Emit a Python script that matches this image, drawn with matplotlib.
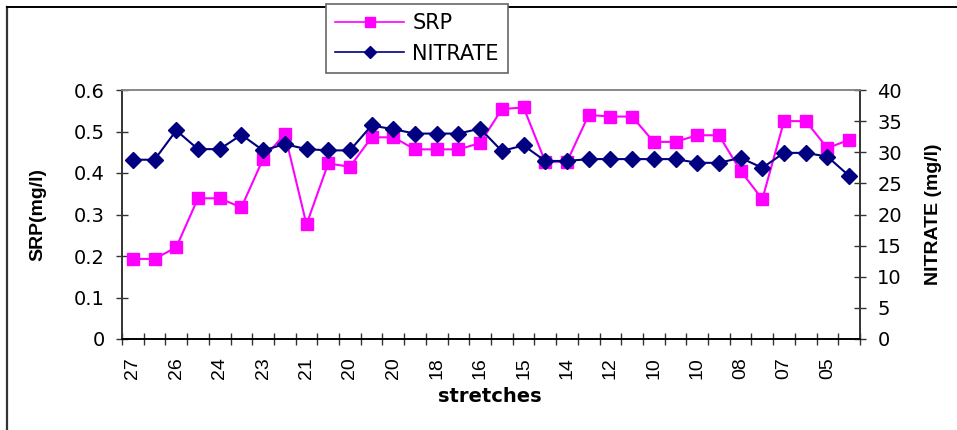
import numpy as np
import matplotlib.pyplot as plt
from matplotlib.lines import Line2D

plt.rcParams['font.family'] = ['Liberation Sans', 'DejaVu Sans']

# stretch labels (shown on every second category)
stretch_labels = ['27', '26', '24', '23', '21', '20', '20', '18', '16',
                  '15', '14', '12', '10', '10', '08', '07', '05']

srp = [0.193, 0.193, 0.221, 0.339, 0.339, 0.317, 0.434, 0.494, 0.276,
       0.423, 0.415, 0.486, 0.486, 0.457, 0.457, 0.457, 0.472, 0.554,
       0.558, 0.427, 0.427, 0.540, 0.536, 0.536, 0.475, 0.475, 0.491,
       0.491, 0.405, 0.337, 0.525, 0.525, 0.460, 0.480]

nitrate = [28.8, 28.8, 33.5, 30.5, 30.5, 32.8, 30.3, 31.3, 30.5, 30.3,
           30.3, 34.3, 33.7, 33.0, 33.0, 33.0, 33.8, 30.2, 31.1, 28.6,
           28.6, 28.9, 28.9, 28.9, 28.9, 28.9, 28.3, 28.3, 29.1, 27.5,
           29.9, 29.9, 29.3, 26.2]

x = np.arange(len(srp))

wide = 'DejaVu Sans'
W, H = 957, 430
x0, x1, y0, y1 = 122, 860, 90, 339   # plot area in pixels

fig = plt.figure(figsize=(W / 100, H / 100), dpi=100)
ax = fig.add_axes([x0 / W, 1 - y1 / H, (x1 - x0) / W, (y1 - y0) / H])
ax2 = ax.twinx()

ax.plot(x, srp, color='#FF00FF', lw=1.5, marker='s', ms=9,
        mec='#FF00FF', mfc='#FF00FF', zorder=3)
ax2.plot(x, nitrate, color='#000080', lw=1.5, marker='D', ms=8.5,
         mec='#000080', mfc='#000080', zorder=3)

ax.set_xlim(-0.5, len(srp) - 0.5)
ax.set_ylim(0, 0.6)
ax2.set_ylim(0, 40)
ax.set_yticks(np.arange(0, 0.61, 0.1))
ax.set_yticklabels(['0', '0.1', '0.2', '0.3', '0.4', '0.5', '0.6'], family=wide, fontsize=14)
ax2.set_yticks(np.arange(0, 41, 5))
ax2.set_yticklabels([str(v) for v in range(0, 41, 5)], family=wide, fontsize=14)

# category boundaries get the tick marks, every other category gets a label
ax.set_xticks(np.arange(-0.5, len(srp), 1.0))
ax.set_xticklabels([])
ax.set_xticks(x[::2], minor=True)
ax.set_xticklabels(stretch_labels, minor=True, rotation=90, fontsize=14)
ax.tick_params(axis='x', which='minor', length=0, pad=13)
ax.tick_params(axis='x', which='major', direction='inout', length=9, width=1, color='#333333')
ax.tick_params(axis='y', direction='inout', length=9, width=1, pad=8, color='#333333')
ax2.tick_params(axis='y', direction='inout', length=9, width=1, pad=8, color='#333333')

for a in (ax, ax2):
    a.spines['top'].set_color('#888888')
    a.spines['left'].set_color('#333333')
    a.spines['right'].set_color('#333333')
    a.spines['bottom'].set_color('black')
    for s in a.spines.values():
        s.set_linewidth(1.2)

ax.set_ylabel('SRP(mg/l)', fontsize=14, fontweight='bold', va='center')
ax2.set_ylabel('NITRATE (mg/l)', fontsize=14, fontweight='bold', rotation=90, va='center')
ax.yaxis.set_label_coords((38 - x0) / (x1 - x0), 0.5)
ax2.yaxis.set_label_coords((933 - x0) / (x1 - x0), 0.5)
ax.set_xlabel('stretches', family=wide, fontsize=14, fontweight='bold')
ax.xaxis.set_label_coords((490 - x0) / (x1 - x0), -(387 - y1) / (y1 - y0))

handles = [Line2D([], [], color='#FF00FF', lw=1.2, marker='s', ms=7, mfc='#FF00FF', mec='#FF00FF'),
           Line2D([], [], color='#000080', lw=1.2, marker='D', ms=6, mfc='#000080', mec='#000080')]
leg = fig.legend(handles, ['SRP', 'NITRATE'], loc='upper left',
                 bbox_to_anchor=(326 / W, 1 - 4 / H), prop={'family': wide, 'size': 15},
                 handlelength=3.3, borderpad=0.45, labelspacing=0.5, handletextpad=0.4,
                 borderaxespad=0, fancybox=False, framealpha=1, edgecolor='#666666')
leg.get_frame().set_linewidth(1.2)

# outer chart border (left and top edges)
fig.add_artist(Line2D([7.5 / W, 7.5 / W], [0, 1 - 7 / H], transform=fig.transFigure,
                      color='#333333', lw=1.6))
fig.add_artist(Line2D([7.5 / W, 1], [1 - 7 / H, 1 - 7 / H], transform=fig.transFigure,
                      color='black', lw=1.4))

fig.savefig('out.png', dpi=100)
